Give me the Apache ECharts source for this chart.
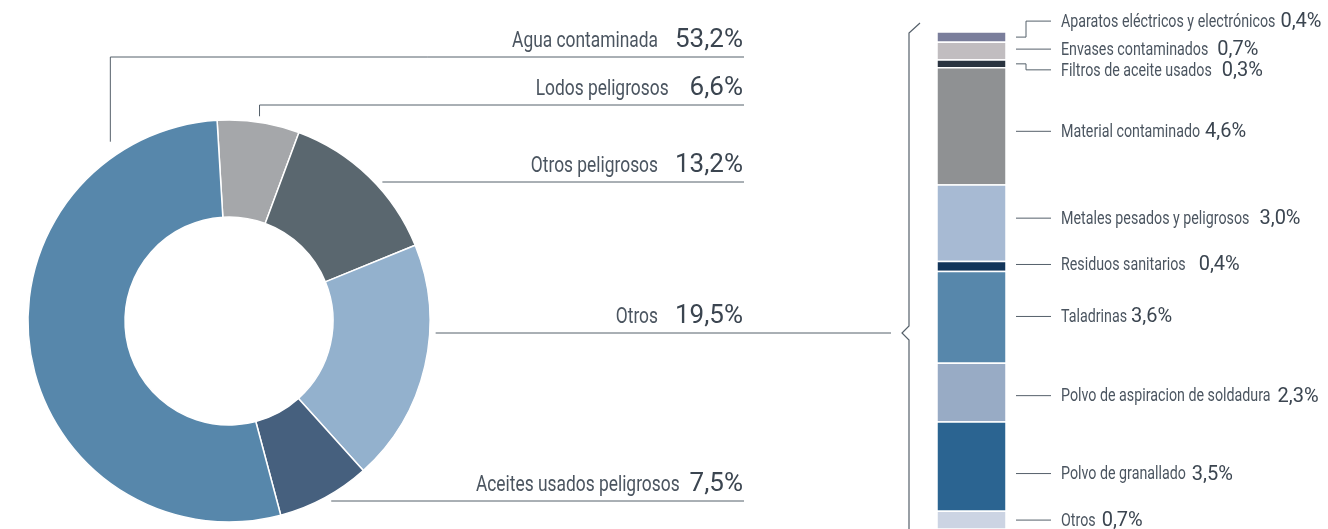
<!DOCTYPE html>
<html>
<head>
<meta charset="utf-8">
<script src="https://cdn.jsdelivr.net/npm/echarts@6/dist/echarts.min.js"></script>
<style>
  html, body { margin: 0; padding: 0; background: #ffffff; }
  #chart { width: 1328px; height: 529px; }
</style>
</head>
<body>
<div id="chart"></div>
<script>
// Residuos peligrosos: reparto principal (%), en orden horario desde arriba
const pieNames = ['Lodos peligrosos', 'Otros peligrosos', 'Otros', 'Aceites usados peligrosos', 'Agua contaminada'];
const pieValues = [6.6, 13.2, 19.5, 7.5, 53.2];

// Desglose de «Otros» (%), de arriba abajo
const otrosNames = [
  'Aparatos eléctricos y electrónicos',
  'Envases contaminados',
  'Filtros de aceite usados',
  'Material contaminado',
  'Metales pesados y peligrosos',
  'Residuos sanitarios',
  'Taladrinas',
  'Polvo de aspiracion de soldadura',
  'Polvo de granallado',
  'Otros'
];
const otrosValues = [0.4, 0.7, 0.3, 4.6, 3.0, 0.4, 3.6, 2.3, 3.5, 0.7];

// ---- styles & layout ----
const FONT = 'Roboto, sans-serif';
const TEXT_NAME = '#4b5560';
const TEXT_VALUE = '#3b4550';
const LEADER = '#55606a';

const pieColors = ['#a5a7aa', '#5a676f', '#93b1cd', '#46607e', '#5787ab'];
const otrosColors = ['#7a7e9b', '#c1bdc0', '#2a3440', '#8f9193', '#a7bad3', '#12355a', '#5787ab', '#98abc5', '#2b6491', '#ccd4e3'];

const PIE = { cx: 229, cy: 321, r0: 104, r1: 201, lead: 207, start: 93.4 };
const PIE_TEXT = { right: 743, nameSize: 22, squeeze: 0.79, valueSize: 26, baseline: 7.5 };
// underline row of each slice label, right end of its underline, gap between name and value
const pieRows = [
  { y: 105, end: 744, gap: 21 },
  { y: 182, end: 744, gap: 17 },
  { y: 333, end: 891, gap: 17 },
  { y: 501, end: 744, gap: 10 },
  { y: 57,  end: 744, gap: 17, angle: 123.5, r: 215 }
];

const BAR = { left: 937, width: 69, top: 32, bottom: 0 };
const BAR_TEXT = { nameSize: 19, squeeze: 0.75, valueSize: 20, lineFrom: 10, lineTo: 45, textAt: 55, elbow: 20, textDrop: 1 };
// vertical shift of each breakdown label from its segment centre, and name/value gap
const otrosLabelShift = [-16, -2, 6, 5, -5, -2, -1, 3, 7, 0];
const otrosGap = [5, 9, 10, 5, 10, 13, 4, 7, 6, 6];

const fmtPct = v => v.toFixed(1).replace('.', ',') + '%';

const measureCtx = document.createElement('canvas').getContext('2d');
function textWidth(str, size) {
  measureCtx.font = size + 'px ' + FONT;
  return measureCtx.measureText(str).width;
}

// stacked extents of the breakdown bar
const otrosStart = [];
let acc = 0;
otrosValues.forEach(v => { otrosStart.push(acc); acc += v; });
const otrosTotal = acc;

// cumulative share before each slice
const pieTotal = pieValues.reduce((s, v) => s + v, 0);
const pieBefore = [];
let pacc = 0;
pieValues.forEach(v => { pieBefore.push(pacc); pacc += v; });

function pieLeader(i) {
  const row = pieRows[i];
  const a0 = PIE.start - pieBefore[i] / pieTotal * 360;
  const a1 = a0 - pieValues[i] / pieTotal * 360;
  const midRad = (a0 + a1) / 2 * Math.PI / 180;
  const dy = row.y - PIE.cy;
  let ax, ay;
  if (row.angle != null) {
    const a = row.angle * Math.PI / 180;
    ax = PIE.cx + row.r * Math.cos(a);
    ay = PIE.cy - row.r * Math.sin(a);
  } else if (Math.abs(dy) < PIE.lead) {
    const side = Math.cos(midRad) >= 0 ? 1 : -1;
    ax = PIE.cx + side * Math.sqrt(PIE.lead * PIE.lead - dy * dy);
    ay = row.y;
  } else {
    ax = PIE.cx + PIE.lead * Math.cos(midRad);
    ay = PIE.cy - PIE.lead * Math.sin(midRad);
  }
  return [[ax, ay], [ax, row.y], [row.end, row.y]];
}

function nameText(x, y, str, size, squeeze, align) {
  return {
    type: 'text',
    x: x, y: y, scaleX: squeeze,
    style: { x: 0, y: 0, text: str, fontFamily: FONT, fontSize: size, fill: TEXT_NAME, align: align, verticalAlign: 'middle' }
  };
}
function valueText(x, y, str, size, align) {
  return {
    type: 'text',
    x: x, y: y,
    style: { x: 0, y: 0, text: str, fontFamily: FONT, fontSize: size, fill: TEXT_VALUE, align: align, verticalAlign: 'middle' }
  };
}

const chart = echarts.init(document.getElementById('chart'), null, { renderer: 'canvas' });

const option = {
  animation: false,
  backgroundColor: '#ffffff',
  grid: { left: BAR.left, width: BAR.width, top: BAR.top, bottom: BAR.bottom },
  xAxis: { type: 'category', data: ['Otros'], show: false },
  yAxis: { type: 'value', min: 0, max: otrosTotal, inverse: true, show: false },
  series: [
    {
      type: 'pie',
      center: [PIE.cx, PIE.cy],
      radius: [PIE.r0, PIE.r1],
      startAngle: PIE.start,
      clockwise: true,
      emphasis: { disabled: true },
      itemStyle: { borderColor: '#ffffff', borderWidth: 1.5 },
      label: { show: false },
      labelLine: { show: false },
      data: pieNames.map((n, i) => ({ name: n, value: pieValues[i], itemStyle: { color: pieColors[i] } }))
    },
    {
      // slice labels with their underlines
      type: 'custom',
      coordinateSystem: 'none',
      silent: true,
      data: pieValues.map((v, i) => [v, i]),
      renderItem: (params, api) => {
        const i = params.dataIndex;
        const row = pieRows[i];
        const T = PIE_TEXT;
        const value = fmtPct(api.value(0));
        const baseY = row.y - T.baseline;
        const vY = baseY - T.valueSize * 0.355;
        const nY = baseY - T.nameSize * 0.355;
        const nameRight = T.right - textWidth(value, T.valueSize) - row.gap;
        return {
          type: 'group',
          children: [
            { type: 'polyline', shape: { points: pieLeader(i) }, style: { stroke: LEADER, lineWidth: 1, fill: null } },
            nameText(nameRight, nY, pieNames[i], T.nameSize, T.squeeze, 'right'),
            valueText(T.right, vY, value, T.valueSize, 'right')
          ]
        };
      }
    },
    {
      // breakdown of «Otros» as one stacked column with side labels
      type: 'custom',
      clip: false,
      silent: true,
      encode: { x: 0, y: [1, 2] },
      data: otrosValues.map((v, i) => [0, otrosStart[i], otrosStart[i] + v, v]),
      renderItem: (params, api) => {
        const i = params.dataIndex;
        const a = api.coord([0, api.value(1)]);
        const b = api.coord([0, api.value(2)]);
        const bw = api.size([1, 0])[0];
        const x = a[0] - bw / 2;
        const yTop = Math.min(a[1], b[1]);
        const yBot = Math.max(a[1], b[1]);
        const mid = (yTop + yBot) / 2;
        const ly = mid + otrosLabelShift[i];
        const right = x + bw;
        const T = BAR_TEXT;
        let pts;
        if (ly > yTop + 1 && ly < yBot - 1) {
          pts = [[right + T.lineFrom, ly], [right + T.lineTo, ly]];
        } else {
          pts = [[right + T.lineFrom, mid], [right + T.elbow, mid], [right + T.elbow, ly], [right + T.lineTo, ly]];
        }
        const nx = right + T.textAt;
        const vx = nx + textWidth(otrosNames[i], T.nameSize) * T.squeeze + otrosGap[i];
        const ty = ly + T.textDrop;
        return {
          type: 'group',
          children: [
            {
              type: 'rect',
              shape: { x: x, y: yTop, width: bw, height: yBot - yTop },
              style: { fill: otrosColors[i], stroke: '#ffffff', lineWidth: 1.5 }
            },
            { type: 'polyline', shape: { points: pts }, style: { stroke: LEADER, lineWidth: 1, fill: null } },
            nameText(nx, ty, otrosNames[i], T.nameSize, T.squeeze, 'left'),
            valueText(vx, ty, fmtPct(api.value(3)), T.valueSize, 'left')
          ]
        };
      }
    }
  ],
  graphic: [
    {
      // brace joining the «Otros» slice to its breakdown
      type: 'polyline',
      silent: true,
      shape: {
        points: [
          [BAR.left - 17, BAR.top - 9], [BAR.left - 28, BAR.top + 1],
          [BAR.left - 28, pieRows[2].y - 7], [BAR.left - 35, pieRows[2].y],
          [BAR.left - 28, pieRows[2].y + 7], [BAR.left - 28, 540]
        ]
      },
      style: { stroke: LEADER, lineWidth: 1.2, fill: null }
    }
  ]
};

chart.setOption(option);
</script>
</body>
</html>
